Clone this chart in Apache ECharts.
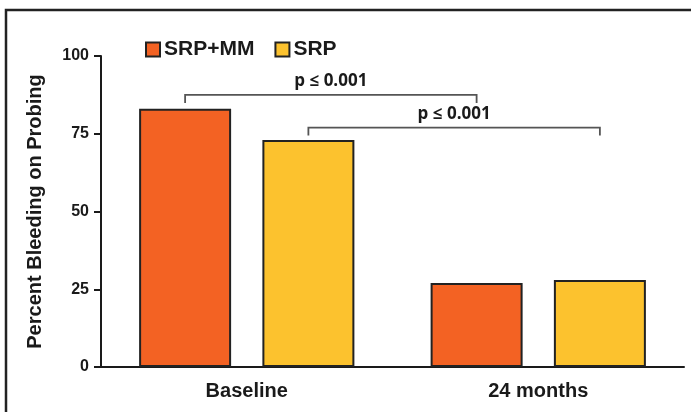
<!DOCTYPE html>
<html>
<head>
<meta charset="utf-8">
<script src="https://cdn.jsdelivr.net/npm/echarts@6/dist/echarts.min.js"></script>
<style>html,body{margin:0;padding:0;background:#fff}#c{width:691px;height:412px}</style>
</head>
<body>
<div id="c"></div>
<script>
var categories = ['Baseline', '24 months'];
var seriesNames = ['SRP+MM', 'SRP'];
var srpMM = [83, 27];
var srp = [73, 28];
var yTicks = [0, 25, 50, 75, 100];
var yTitle = 'Percent Bleeding on Probing';
// significance brackets
var bracketSeriesA = [0, 1];
var bracketCatA = [0, 0];
var bracketSeriesB = [0, 1];
var bracketCatB = [1, 1];
var bracketLevel = [87.5, 77];
var bracketLabel = ['p \u2264 0.001', 'p \u2264 0.001'];

var FONT = 'Liberation Sans, Arial, sans-serif';
var INK = '#1a1a1a';
var chart = echarts.init(document.getElementById('c'), null, {renderer: 'canvas'});
var option = {
  animation: false,
  backgroundColor: '#fff',
  grid: {left: 101, right: 7, top: 56, bottom: 45, containLabel: false},
  legend: {
    left: 140, top: 34, itemWidth: 14, itemHeight: 14, itemGap: 20,
    icon: 'rect',
    textStyle: {fontFamily: FONT, fontWeight: 'bold', fontSize: 21, color: INK, padding: [0,0,0,-1]},
    data: seriesNames
  },
  xAxis: {
    type: 'category', data: categories,
    axisLine: {lineStyle: {color: INK, width: 2}},
    axisTick: {show: false},
    axisLabel: {fontFamily: FONT, fontWeight: 'bold', fontSize: 20, color: INK, margin: 14}
  },
  yAxis: {
    type: 'value', min: 0, max: 100, interval: 25,
    name: yTitle, nameLocation: 'middle', nameGap: 56,
    nameTextStyle: {fontFamily: FONT, fontWeight: 'bold', fontSize: 20, color: INK},
    axisLine: {show: true, lineStyle: {color: INK, width: 2}},
    axisTick: {show: true, length: 7, lineStyle: {color: INK, width: 2}},
    splitLine: {show: false},
    axisLabel: {fontFamily: FONT, fontWeight: 'bold', fontSize: 16, color: INK, margin: 12,
      formatter: function (v) { return yTicks.indexOf(v) >= 0 ? String(v) : ''; }}
  },
  series: [
    {name: seriesNames[0], type: 'bar', data: srpMM, barWidth: 92, barGap: '34%',
     itemStyle: {color: '#F36223', borderColor: '#222', borderWidth: 2}},
    {name: seriesNames[1], type: 'bar', data: srp, barWidth: 92, barGap: '34%',
     itemStyle: {color: '#FCC22E', borderColor: '#222', borderWidth: 2}}
  ]
};
chart.setOption(option);

function barCenterX(si, ci) {
  var d = chart.getModel().getSeriesByIndex(si).getData();
  var l = d.getItemLayout(ci);
  return l.x + l.width / 2;
}
var graphics = [];
for (var i = 0; i < bracketLevel.length; i++) {
  var xa = barCenterX(bracketSeriesA[i], bracketCatA[i]);
  var xb = barCenterX(bracketSeriesB[i], bracketCatB[i]);
  var yl = chart.convertToPixel({yAxisIndex: 0}, bracketLevel[i]);
  var ye = yl + 8;
  graphics.push({type: 'polyline', z: 10, shape: {points: [[xa, ye], [xa, yl], [xb, yl], [xb, ye]]},
    style: {stroke: '#555', lineWidth: 1.8, fill: null}});
  graphics.push({type: 'text', z: 10, x: (xa + xb) / 2, y: yl - 5,
    style: {text: bracketLabel[i], fontFamily: 'Open Sans, sans-serif', fontWeight: 'bold', fontSize: 17,
      fill: INK, align: 'center', verticalAlign: 'bottom'}});
}
graphics.push({type: 'polyline', z: 10, shape: {points: [[6, 412], [6, 10], [691, 10]]},
  style: {stroke: '#222', lineWidth: 2.5, fill: null}});
chart.setOption({graphic: graphics});
</script>
</body>
</html>
